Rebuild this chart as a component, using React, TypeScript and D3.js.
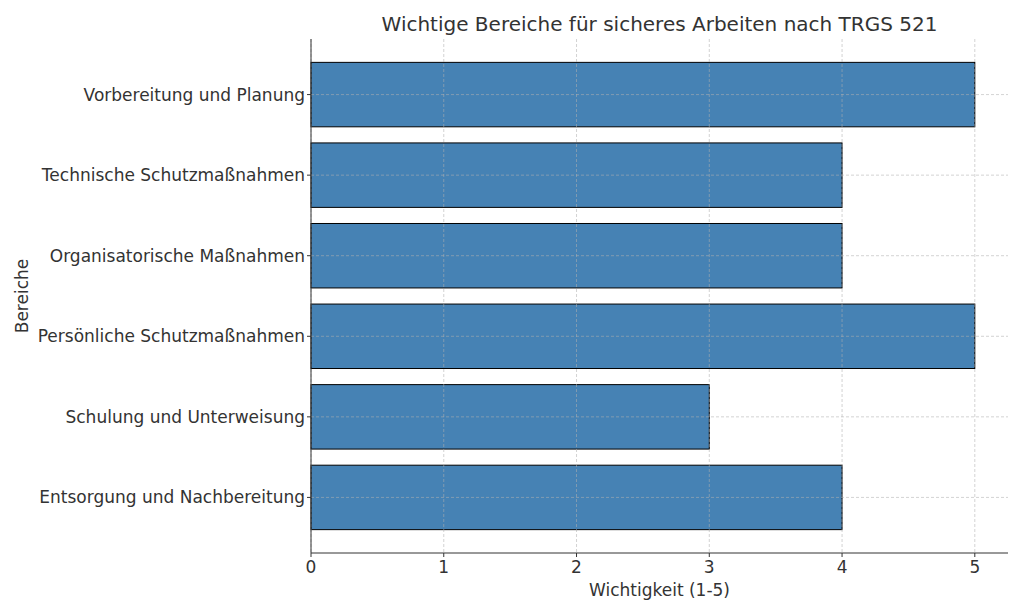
import React from "react";
import * as d3 from "d3";

const categories = [
  "Vorbereitung und Planung",
  "Technische Schutzmaßnahmen",
  "Organisatorische Maßnahmen",
  "Persönliche Schutzmaßnahmen",
  "Schulung und Unterweisung",
  "Entsorgung und Nachbereitung",
];
const values = [5, 4, 4, 5, 3, 4];
const xTicks = [0, 1, 2, 3, 4, 5];

const W = 1024;
const H = 614;
const left = 311;
const right = 1008;
const top = 39;
const bottom = 553;
const font = "'DejaVu Sans', sans-serif";
const textColor = "#333333";

export default function App() {
  const x = d3.scaleLinear().domain([0, 5.25]).range([left, right]);
  const n = categories.length;
  const y = d3
    .scaleLinear()
    .domain([-0.69, n - 1 + 0.69])
    .range([top, bottom]);
  const bh = y(0.4) - y(-0.4);

  return (
    <svg width={W} height={H} style={{ position: "absolute", left: 0, top: 0 }} fontFamily={font}>
      <rect width={W} height={H} fill="#ffffff" />
      {categories.map((c, i) => (
        <rect
          key={c}
          x={x(0)}
          y={y(i) - bh / 2}
          width={x(values[i]) - x(0)}
          height={bh}
          fill="#4682b4"
          stroke="#000000"
          strokeWidth={1}
        />
      ))}
      {xTicks.map((t) => (
        <line key={"gx" + t} x1={x(t)} x2={x(t)} y1={top} y2={bottom} stroke="#b0b0b0" strokeOpacity={0.7} strokeDasharray="3,2" strokeWidth={0.8} />
      ))}
      {categories.map((c, i) => (
        <line key={"gy" + i} x1={left} x2={right} y1={y(i)} y2={y(i)} stroke="#b0b0b0" strokeOpacity={0.7} strokeDasharray="3,2" strokeWidth={0.8} />
      ))}
      <line x1={left} x2={left} y1={top} y2={bottom} stroke="#333" strokeWidth={1} />
      <line x1={left} x2={right} y1={bottom} y2={bottom} stroke="#333" strokeWidth={1} />
      {xTicks.map((t) => (
        <g key={"xt" + t}>
          <line x1={x(t)} x2={x(t)} y1={bottom} y2={bottom + 4} stroke="#333" />
          <text x={x(t)} y={bottom + 20} textAnchor="middle" fontSize={17} fill={textColor}>
            {t}
          </text>
        </g>
      ))}
      {categories.map((c, i) => (
        <g key={"yt" + i}>
          <line x1={left - 4} x2={left} y1={y(i)} y2={y(i)} stroke="#333" />
          <text x={left - 6} y={y(i)} dy="0.35em" textAnchor="end" fontSize={17} fill={textColor}>
            {c}
          </text>
        </g>
      ))}
      <text x={(left + right) / 2} y={596} textAnchor="middle" fontSize={17} fill={textColor}>
        Wichtigkeit (1-5)
      </text>
      <text transform={`translate(28,${(top + bottom) / 2}) rotate(-90)`} textAnchor="middle" fontSize={17} fill={textColor}>
        Bereiche
      </text>
      <text x={(left + right) / 2} y={31} textAnchor="middle" fontSize={20} fill={textColor}>
        Wichtige Bereiche für sicheres Arbeiten nach TRGS 521
      </text>
    </svg>
  );
}
